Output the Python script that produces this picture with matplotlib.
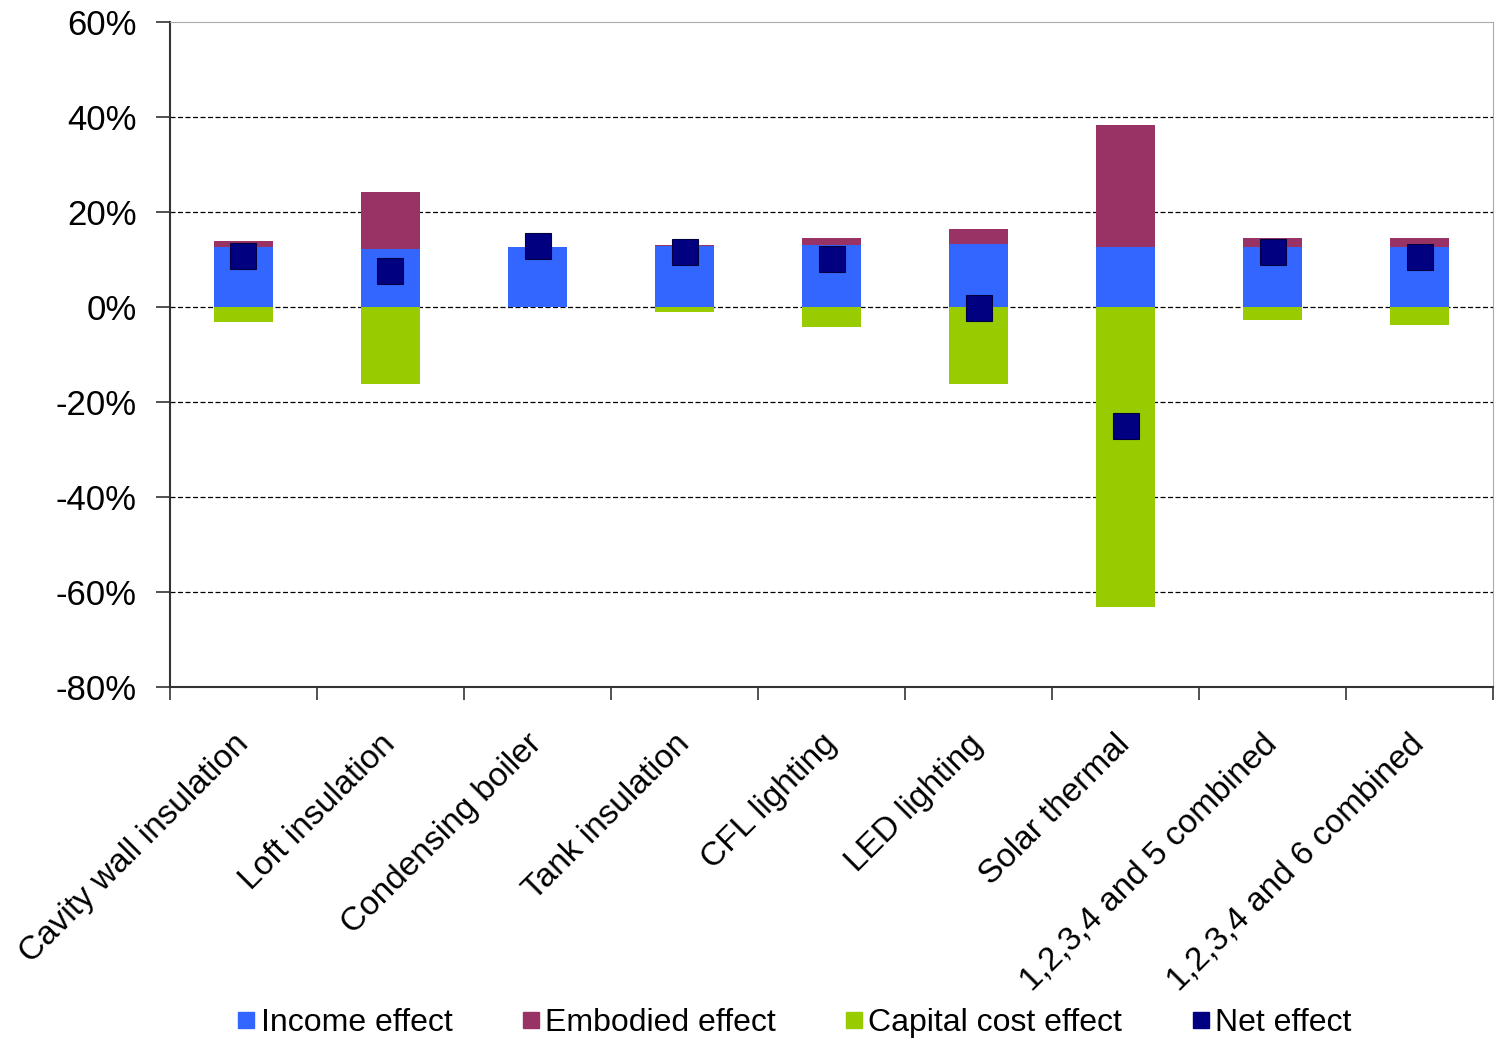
import numpy as np
import matplotlib.pyplot as plt
from matplotlib.lines import Line2D

categories = ['Cavity wall insulation', 'Loft insulation', 'Condensing boiler',
              'Tank insulation', 'CFL lighting', 'LED lighting', 'Solar thermal',
              '1,2,3,4 and 5 combined', '1,2,3,4 and 6 combined']
income = [12.6, 12.2, 12.5, 12.8, 13.1, 13.2, 12.6, 12.6, 12.6]
embodied = [1.2, 12.0, 0.0, 0.2, 1.3, 3.1, 25.6, 1.8, 1.8]
capital = [-3.3, -16.2, 0.0, -1.1, -4.2, -16.2, -63.2, -2.7, -3.9]
net = [10.7, 7.6, 12.7, 11.6, 10.0, -0.2, -25.2, 11.6, 10.5]

def main():
    plt.rcParams['font.family'] = ['Liberation Sans', 'DejaVu Sans']
    fig = plt.figure(figsize=(14.95, 10.42), dpi=100)
    ax = fig.add_axes([0.1137, 0.341, 0.885, 0.638])

    x = np.arange(len(categories))
    w = 0.4
    ax.bar(x, income, w, color='#3366FF', label='Income effect', zorder=2)
    ax.bar(x, embodied, w, bottom=income, color='#993366', label='Embodied effect', zorder=2)
    ax.bar(x, capital, w, color='#99CC00', label='Capital cost effect', zorder=2)
    ax.plot(x, net, 's', color='#000080', markersize=19, markeredgecolor='#000040',
            markeredgewidth=0.8, linestyle='none', zorder=3)

    ax.set_xlim(-0.5, len(categories) - 0.5)
    ax.set_ylim(-80, 60)
    yt = np.arange(-80, 61, 20)
    ax.set_yticks(yt)
    ax.set_yticklabels(['%d%%' % v for v in yt], fontsize=25)
    for v in [40, 20, 0, -20, -40, -60]:
        ax.axhline(v, color='black', linestyle=(0, (4, 2)), linewidth=0.9, zorder=1)

    ax.set_xticks(x)
    ax.set_xticklabels(categories, rotation=45, ha='right', va='center',
                       rotation_mode='anchor', fontsize=24)
    ax.tick_params(axis='x', which='major', length=0, pad=38)
    ax.set_xticks(np.arange(-0.5, len(categories), 1.0), minor=True)
    ax.tick_params(axis='x', which='minor', length=9, width=1.2, direction='out', color='#333333')
    ax.tick_params(axis='y', length=10, width=1.2, color='#333333', pad=14)

    ax.spines['left'].set_color('#333333')
    ax.spines['bottom'].set_color('#333333')
    ax.spines['left'].set_linewidth(1.5)
    ax.spines['bottom'].set_linewidth(1.5)
    ax.spines['top'].set_color('#aaaaaa')
    ax.spines['right'].set_color('#aaaaaa')

    handles = [Line2D([], [], marker='s', linestyle='none', color=c, markersize=12)
               for c in ['#3366FF', '#993366', '#99CC00', '#000080']]
    labels = ['Income effect', 'Embodied effect', 'Capital cost effect', 'Net effect']
    fig.legend(handles, labels, loc='center', bbox_to_anchor=(0.53, 0.018), ncol=4,
               frameon=False, fontsize=23, handletextpad=0.05, columnspacing=2.05,
               handlelength=0.8)

    fig.savefig('out.png', dpi=100)

if __name__ == '__main__':
    main()
